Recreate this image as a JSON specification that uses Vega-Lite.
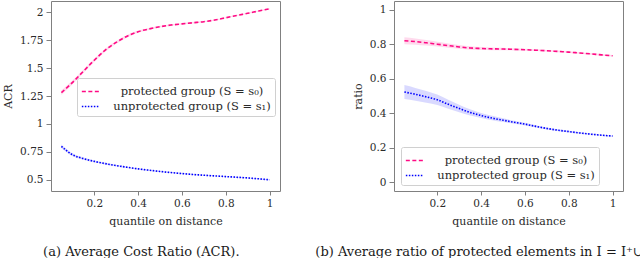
{
  "$schema": "https://vega.github.io/schema/vega-lite/v6.json",
  "padding": {"left": 2, "top": 0, "right": 0, "bottom": 0},
  "background": "white",
  "spacing": 114,
  "bounds": "flush",
  "config": {
    "font": "DejaVu Serif",
    "view": {"stroke": "#808080", "strokeWidth": 1},
    "axis": {
      "domain": false, "grid": false, "tickColor": "#808080", "tickSize": 4,
      "labelFont": "DejaVu Serif", "labelFontSize": 10.5, "labelColor": "#2a2a2a", "labelPadding": 3,
      "titleFont": "DejaVu Serif", "titleFontSize": 11, "titleFontWeight": "normal", "titleColor": "#2a2a2a"
    },
    "legend": {
      "fillColor": "white", "strokeColor": "#d0d0d0", "cornerRadius": 2, "padding": 4,
      "labelFont": "DejaVu Serif", "labelFontSize": 11.5, "labelColor": "#2a2a2a",
      "symbolType": "stroke", "symbolStrokeWidth": 1.5, "symbolSize": 300, "rowPadding": 0, "labelOffset": 14
    },
    "title": {"font": "DejaVu Serif", "fontSize": 13, "fontWeight": "normal", "color": "#1a1a1a"}
  },
  "datasets": {
    "acr": [
      {"q": 0.05, "group": "protected group (S = s₀)", "v": 1.28, "lo": 1.26, "hi": 1.30},
      {"q": 0.10, "group": "protected group (S = s₀)", "v": 1.37, "lo": 1.352, "hi": 1.388},
      {"q": 0.15, "group": "protected group (S = s₀)", "v": 1.47, "lo": 1.455, "hi": 1.485},
      {"q": 0.20, "group": "protected group (S = s₀)", "v": 1.57, "lo": 1.556, "hi": 1.584},
      {"q": 0.25, "group": "protected group (S = s₀)", "v": 1.66, "lo": 1.647, "hi": 1.673},
      {"q": 0.30, "group": "protected group (S = s₀)", "v": 1.73, "lo": 1.718, "hi": 1.742},
      {"q": 0.35, "group": "protected group (S = s₀)", "v": 1.785, "lo": 1.774, "hi": 1.796},
      {"q": 0.40, "group": "protected group (S = s₀)", "v": 1.825, "lo": 1.815, "hi": 1.835},
      {"q": 0.45, "group": "protected group (S = s₀)", "v": 1.85, "lo": 1.841, "hi": 1.859},
      {"q": 0.50, "group": "protected group (S = s₀)", "v": 1.87, "lo": 1.862, "hi": 1.878},
      {"q": 0.55, "group": "protected group (S = s₀)", "v": 1.885, "lo": 1.878, "hi": 1.892},
      {"q": 0.60, "group": "protected group (S = s₀)", "v": 1.895, "lo": 1.889, "hi": 1.901},
      {"q": 0.65, "group": "protected group (S = s₀)", "v": 1.905, "lo": 1.899, "hi": 1.911},
      {"q": 0.70, "group": "protected group (S = s₀)", "v": 1.915, "lo": 1.91, "hi": 1.92},
      {"q": 0.75, "group": "protected group (S = s₀)", "v": 1.93, "lo": 1.925, "hi": 1.935},
      {"q": 0.80, "group": "protected group (S = s₀)", "v": 1.95, "lo": 1.945, "hi": 1.955},
      {"q": 0.85, "group": "protected group (S = s₀)", "v": 1.97, "lo": 1.965, "hi": 1.975},
      {"q": 0.90, "group": "protected group (S = s₀)", "v": 1.99, "lo": 1.985, "hi": 1.995},
      {"q": 0.95, "group": "protected group (S = s₀)", "v": 2.01, "lo": 2.005, "hi": 2.015},
      {"q": 1.00, "group": "protected group (S = s₀)", "v": 2.03, "lo": 2.025, "hi": 2.035},
      {"q": 0.05, "group": "unprotected group (S = s₁)", "v": 0.80, "lo": 0.785, "hi": 0.815},
      {"q": 0.10, "group": "unprotected group (S = s₁)", "v": 0.725, "lo": 0.713, "hi": 0.737},
      {"q": 0.15, "group": "unprotected group (S = s₁)", "v": 0.69, "lo": 0.68, "hi": 0.70},
      {"q": 0.20, "group": "unprotected group (S = s₁)", "v": 0.665, "lo": 0.657, "hi": 0.673},
      {"q": 0.25, "group": "unprotected group (S = s₁)", "v": 0.645, "lo": 0.638, "hi": 0.652},
      {"q": 0.30, "group": "unprotected group (S = s₁)", "v": 0.628, "lo": 0.622, "hi": 0.634},
      {"q": 0.35, "group": "unprotected group (S = s₁)", "v": 0.612, "lo": 0.606, "hi": 0.618},
      {"q": 0.40, "group": "unprotected group (S = s₁)", "v": 0.598, "lo": 0.593, "hi": 0.603},
      {"q": 0.45, "group": "unprotected group (S = s₁)", "v": 0.586, "lo": 0.581, "hi": 0.591},
      {"q": 0.50, "group": "unprotected group (S = s₁)", "v": 0.575, "lo": 0.57, "hi": 0.58},
      {"q": 0.55, "group": "unprotected group (S = s₁)", "v": 0.565, "lo": 0.56, "hi": 0.57},
      {"q": 0.60, "group": "unprotected group (S = s₁)", "v": 0.556, "lo": 0.552, "hi": 0.56},
      {"q": 0.65, "group": "unprotected group (S = s₁)", "v": 0.548, "lo": 0.544, "hi": 0.552},
      {"q": 0.70, "group": "unprotected group (S = s₁)", "v": 0.541, "lo": 0.537, "hi": 0.545},
      {"q": 0.75, "group": "unprotected group (S = s₁)", "v": 0.535, "lo": 0.531, "hi": 0.539},
      {"q": 0.80, "group": "unprotected group (S = s₁)", "v": 0.529, "lo": 0.525, "hi": 0.533},
      {"q": 0.85, "group": "unprotected group (S = s₁)", "v": 0.523, "lo": 0.519, "hi": 0.527},
      {"q": 0.90, "group": "unprotected group (S = s₁)", "v": 0.517, "lo": 0.513, "hi": 0.521},
      {"q": 0.95, "group": "unprotected group (S = s₁)", "v": 0.509, "lo": 0.505, "hi": 0.513},
      {"q": 1.00, "group": "unprotected group (S = s₁)", "v": 0.50, "lo": 0.496, "hi": 0.504}
    ],
    "ratio": [
      {"q": 0.05, "group": "protected group (S = s₀)", "v": 0.82, "lo": 0.80, "hi": 0.84},
      {"q": 0.10, "group": "protected group (S = s₀)", "v": 0.815, "lo": 0.797, "hi": 0.833},
      {"q": 0.15, "group": "protected group (S = s₀)", "v": 0.808, "lo": 0.792, "hi": 0.824},
      {"q": 0.20, "group": "protected group (S = s₀)", "v": 0.80, "lo": 0.786, "hi": 0.814},
      {"q": 0.25, "group": "protected group (S = s₀)", "v": 0.792, "lo": 0.78, "hi": 0.804},
      {"q": 0.30, "group": "protected group (S = s₀)", "v": 0.784, "lo": 0.773, "hi": 0.795},
      {"q": 0.35, "group": "protected group (S = s₀)", "v": 0.778, "lo": 0.768, "hi": 0.788},
      {"q": 0.40, "group": "protected group (S = s₀)", "v": 0.775, "lo": 0.766, "hi": 0.784},
      {"q": 0.45, "group": "protected group (S = s₀)", "v": 0.773, "lo": 0.765, "hi": 0.781},
      {"q": 0.50, "group": "protected group (S = s₀)", "v": 0.772, "lo": 0.765, "hi": 0.779},
      {"q": 0.55, "group": "protected group (S = s₀)", "v": 0.77, "lo": 0.764, "hi": 0.776},
      {"q": 0.60, "group": "protected group (S = s₀)", "v": 0.768, "lo": 0.762, "hi": 0.774},
      {"q": 0.65, "group": "protected group (S = s₀)", "v": 0.765, "lo": 0.76, "hi": 0.77},
      {"q": 0.70, "group": "protected group (S = s₀)", "v": 0.762, "lo": 0.757, "hi": 0.767},
      {"q": 0.75, "group": "protected group (S = s₀)", "v": 0.758, "lo": 0.753, "hi": 0.763},
      {"q": 0.80, "group": "protected group (S = s₀)", "v": 0.754, "lo": 0.749, "hi": 0.759},
      {"q": 0.85, "group": "protected group (S = s₀)", "v": 0.749, "lo": 0.744, "hi": 0.754},
      {"q": 0.90, "group": "protected group (S = s₀)", "v": 0.744, "lo": 0.739, "hi": 0.749},
      {"q": 0.95, "group": "protected group (S = s₀)", "v": 0.738, "lo": 0.733, "hi": 0.743},
      {"q": 1.00, "group": "protected group (S = s₀)", "v": 0.733, "lo": 0.728, "hi": 0.738},
      {"q": 0.05, "group": "unprotected group (S = s₁)", "v": 0.523, "lo": 0.483, "hi": 0.563},
      {"q": 0.10, "group": "unprotected group (S = s₁)", "v": 0.51, "lo": 0.473, "hi": 0.547},
      {"q": 0.15, "group": "unprotected group (S = s₁)", "v": 0.495, "lo": 0.461, "hi": 0.529},
      {"q": 0.20, "group": "unprotected group (S = s₁)", "v": 0.478, "lo": 0.448, "hi": 0.508},
      {"q": 0.25, "group": "unprotected group (S = s₁)", "v": 0.452, "lo": 0.426, "hi": 0.478},
      {"q": 0.30, "group": "unprotected group (S = s₁)", "v": 0.428, "lo": 0.406, "hi": 0.45},
      {"q": 0.35, "group": "unprotected group (S = s₁)", "v": 0.405, "lo": 0.387, "hi": 0.423},
      {"q": 0.40, "group": "unprotected group (S = s₁)", "v": 0.387, "lo": 0.372, "hi": 0.402},
      {"q": 0.45, "group": "unprotected group (S = s₁)", "v": 0.372, "lo": 0.359, "hi": 0.385},
      {"q": 0.50, "group": "unprotected group (S = s₁)", "v": 0.36, "lo": 0.349, "hi": 0.371},
      {"q": 0.55, "group": "unprotected group (S = s₁)", "v": 0.348, "lo": 0.339, "hi": 0.357},
      {"q": 0.60, "group": "unprotected group (S = s₁)", "v": 0.337, "lo": 0.329, "hi": 0.345},
      {"q": 0.65, "group": "unprotected group (S = s₁)", "v": 0.324, "lo": 0.317, "hi": 0.331},
      {"q": 0.70, "group": "unprotected group (S = s₁)", "v": 0.312, "lo": 0.306, "hi": 0.318},
      {"q": 0.75, "group": "unprotected group (S = s₁)", "v": 0.302, "lo": 0.297, "hi": 0.307},
      {"q": 0.80, "group": "unprotected group (S = s₁)", "v": 0.294, "lo": 0.289, "hi": 0.299},
      {"q": 0.85, "group": "unprotected group (S = s₁)", "v": 0.286, "lo": 0.282, "hi": 0.29},
      {"q": 0.90, "group": "unprotected group (S = s₁)", "v": 0.279, "lo": 0.275, "hi": 0.283},
      {"q": 0.95, "group": "unprotected group (S = s₁)", "v": 0.273, "lo": 0.269, "hi": 0.277},
      {"q": 1.00, "group": "unprotected group (S = s₁)", "v": 0.268, "lo": 0.264, "hi": 0.272}
    ]
  },
  "resolve": {
    "scale": {"color": "independent", "strokeDash": "independent"},
    "legend": {"color": "independent", "strokeDash": "independent"}
  },
  "hconcat": [
    {
      "width": 229,
      "height": 190,
      "data": {"name": "acr"},
      "title": {"text": "(a) Average Cost Ratio (ACR).", "orient": "bottom", "anchor": "middle", "frame": "bounds", "offset": 19},
      "encoding": {
        "x": {"field": "q", "type": "quantitative", "scale": {"domain": [0.0025, 1.0475], "nice": false, "zero": false},
              "axis": {"values": [0.2, 0.4, 0.6, 0.8, 1], "labelExpr": "'' + datum.value", "title": "quantile on distance", "titlePadding": 7}},
        "y": {"field": "v", "type": "quantitative", "scale": {"domain": [0.4, 2.1], "nice": false, "zero": false},
              "axis": {"values": [0.5, 0.75, 1, 1.25, 1.5, 1.75, 2], "labelExpr": "'' + datum.value", "title": "ACR", "titlePadding": 6, "tickSize": 5}}
      },
      "layer": [
        {
          "transform": [{"filter": "datum.group == 'protected group (S = s₀)'"}],
          "mark": {"type": "area", "opacity": 0.15, "interpolate": "monotone", "color": "#ff0a84"},
          "encoding": {"y": {"field": "lo", "type": "quantitative"}, "y2": {"field": "hi"}}
        },
        {
          "transform": [{"filter": "datum.group == 'unprotected group (S = s₁)'"}],
          "mark": {"type": "area", "opacity": 0.15, "interpolate": "monotone", "color": "#0000ff"},
          "encoding": {"y": {"field": "lo", "type": "quantitative"}, "y2": {"field": "hi"}}
        },
        {
          "mark": {"type": "line", "strokeWidth": 1.6, "interpolate": "monotone", "strokeCap": "butt"},
          "encoding": {
            "color": {"field": "group", "type": "nominal",
                      "scale": {"domain": ["protected group (S = s₀)", "unprotected group (S = s₁)"], "range": ["#ff0a84", "#0000ff"]},
                      "legend": {"title": null, "orient": "none", "legendX": 26, "legendY": 77, "labelAlign": "center", "labelOffset": 92}},
            "strokeDash": {"field": "group", "type": "nominal",
                      "scale": {"domain": ["protected group (S = s₀)", "unprotected group (S = s₁)"], "range": [[4, 2.5], [1.5, 1.5]]},
                      "legend": {"title": null, "orient": "none", "legendX": 26, "legendY": 77, "labelAlign": "center", "labelOffset": 92}}
          }
        }
      ]
    },
    {
      "width": 229,
      "height": 190,
      "data": {"name": "ratio"},
      "title": {"text": "(b) Average ratio of protected elements in I = I⁺∪I⁻.", "orient": "bottom", "anchor": "middle", "frame": "bounds", "offset": 19},
      "encoding": {
        "x": {"field": "q", "type": "quantitative", "scale": {"domain": [0.0025, 1.0475], "nice": false, "zero": false},
              "axis": {"values": [0.2, 0.4, 0.6, 0.8, 1], "labelExpr": "'' + datum.value", "title": "quantile on distance", "titlePadding": 7}},
        "y": {"field": "v", "type": "quantitative", "scale": {"domain": [-0.05, 1.05], "nice": false, "zero": false},
              "axis": {"values": [0, 0.2, 0.4, 0.6, 0.8, 1], "labelExpr": "'' + datum.value", "title": "ratio", "titlePadding": 6, "tickSize": 5}}
      },
      "layer": [
        {
          "transform": [{"filter": "datum.group == 'protected group (S = s₀)'"}],
          "mark": {"type": "area", "opacity": 0.15, "interpolate": "monotone", "color": "#ff0a84"},
          "encoding": {"y": {"field": "lo", "type": "quantitative"}, "y2": {"field": "hi"}}
        },
        {
          "transform": [{"filter": "datum.group == 'unprotected group (S = s₁)'"}],
          "mark": {"type": "area", "opacity": 0.15, "interpolate": "monotone", "color": "#0000ff"},
          "encoding": {"y": {"field": "lo", "type": "quantitative"}, "y2": {"field": "hi"}}
        },
        {
          "mark": {"type": "line", "strokeWidth": 1.6, "interpolate": "monotone", "strokeCap": "butt"},
          "encoding": {
            "color": {"field": "group", "type": "nominal",
                      "scale": {"domain": ["protected group (S = s₀)", "unprotected group (S = s₁)"], "range": ["#ff0a84", "#0000ff"]},
                      "legend": {"title": null, "orient": "none", "legendX": 7, "legendY": 146, "labelAlign": "center", "labelOffset": 92}},
            "strokeDash": {"field": "group", "type": "nominal",
                      "scale": {"domain": ["protected group (S = s₀)", "unprotected group (S = s₁)"], "range": [[4, 2.5], [1.5, 1.5]]},
                      "legend": {"title": null, "orient": "none", "legendX": 7, "legendY": 146, "labelAlign": "center", "labelOffset": 92}}
          }
        }
      ]
    }
  ]
}
